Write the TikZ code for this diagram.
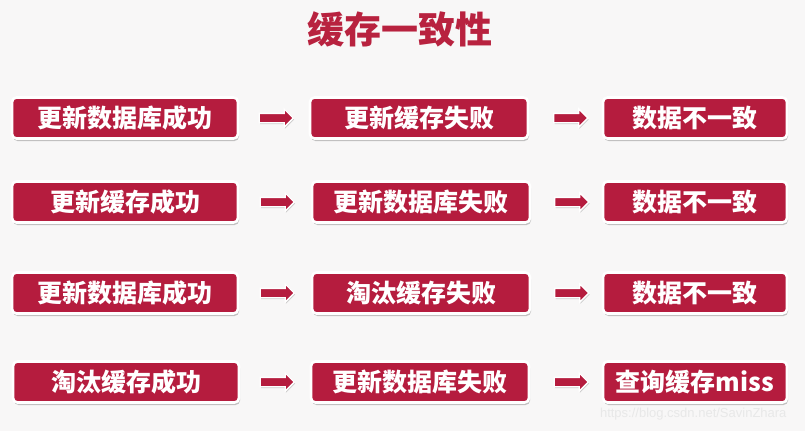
\documentclass[tikz,border=0pt]{standalone}
\usepackage{fontspec}
\newfontfamily\cjk{Noto Sans CJK SC}
\setsansfont{Liberation Sans}
\usetikzlibrary{shadows,shapes.arrows,calc}
\definecolor{crim}{HTML}{B51C3E}
\definecolor{titlered}{HTML}{B8223F}
\definecolor{bg}{HTML}{F8F7F7}
\tikzset{
  redbox/.style={draw=white, line width=2.6pt, fill=crim, rounded corners=4.5pt,
    minimum height=41pt, inner sep=0pt, text=white,
    font=\cjk\bfseries\fontsize{25}{25}\selectfont,
    drop shadow={shadow xshift=1pt, shadow yshift=-2.5pt, fill=black, opacity=0.22}},
  wA/.style={redbox, minimum width=226pt},
  wB/.style={redbox, minimum width=218pt},
  wC/.style={redbox, minimum width=184pt},
  blockarrow/.style={single arrow, draw=white, line width=1.3pt, fill=crim,
    minimum height=34pt, minimum width=18pt, single arrow head extend=4.5pt,
    inner sep=4pt,
    drop shadow={shadow xshift=0.8pt, shadow yshift=-1.5pt, fill=black, opacity=0.18}},
}
\begin{document}
\begin{tikzpicture}[x=1pt,y=-1pt]
\fill[bg] (0,0) rectangle (805,431);
\useasboundingbox (0,0) rectangle (805,431);
\node[text=titlered, font=\cjk\bfseries\fontsize{37}{37}\selectfont] (title) at (400,29) {缓存一致性};
% row 1
\node[wA] (b11) at (125,118) {更新数据库成功};
\node[wB] (b12) at (419,118) {更新缓存失败};
\node[wC] (b13) at (695,118) {数据不一致};
% row 2
\node[wA] (b21) at (125,202) {更新缓存成功};
\node[wB] (b22) at (421,202) {更新数据库失败};
\node[wC] (b23) at (695,202) {数据不一致};
% row 3
\node[wA] (b31) at (125,293) {更新数据库成功};
\node[wB] (b32) at (421,293) {淘汰缓存失败};
\node[wC] (b33) at (695,293) {数据不一致};
% row 4
\node[wA] (b41) at (126,382) {淘汰缓存成功};
\node[wB] (b42) at (420,382) {更新数据库失败};
\node[wC] (b43) at (695,382) {查询缓存miss};
% arrows
\foreach \r in {1,2,3,4}{
  \node[blockarrow] (a\r1) at ($(b\r1.east)!0.5!(b\r2.west)$) {};
  \node[blockarrow] (a\r2) at ($(b\r2.east)!0.5!(b\r3.west)+(3,0)$) {};
}
\node[text=black!9, font=\sffamily\fontsize{13}{13}\selectfont, anchor=east] (wm) at (790,414) {https://blog.csdn.net/SavinZhara};
\end{tikzpicture}
\end{document}
